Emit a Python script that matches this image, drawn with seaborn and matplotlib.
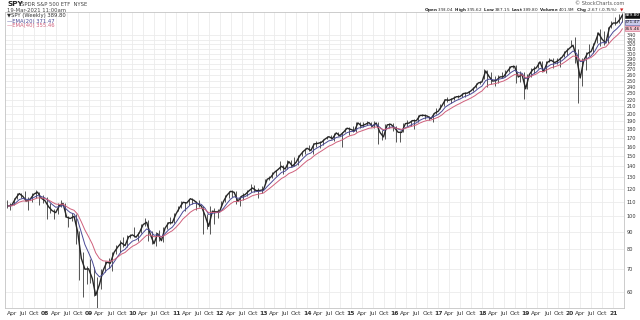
import numpy as np
import pandas as pd
import matplotlib
matplotlib.use("Agg")
import matplotlib.pyplot as plt
import matplotlib.dates as mdates
import seaborn as sns

# ---------------- data (monthly, dividend-adjusted SPY) ----------------
start_month = "2007-02-01"
last_date = "2021-03-19"

close = [
    # 2007 Feb-Dec
    107.1, 107.8, 112.7, 116.5, 114.3, 110.7, 112.2, 116.0, 117.6, 113.0, 111.1,
    # 2008
    106.6, 103.8, 102.4, 107.3, 109.0, 99.3, 98.4, 99.9, 90.0, 75.1, 69.8, 70.0,
    # 2009
    65.5, 58.5, 62.9, 69.1, 73.2, 72.7, 78.2, 81.1, 83.5, 81.9, 86.9, 88.1,
    # 2010
    86.7, 89.3, 94.4, 95.9, 88.3, 83.0, 88.8, 84.7, 92.1, 95.6, 95.6, 101.5,
    # 2011
    106.0, 109.8, 109.3, 112.5, 111.2, 108.8, 107.0, 100.4, 93.3, 103.4, 102.9, 103.4,
    # 2012
    110.3, 115.1, 118.3, 117.5, 110.5, 114.3, 115.7, 118.6, 121.0, 118.8, 118.9, 119.6,
    # 2013
    128.3, 129.9, 134.3, 136.9, 140.1, 137.5, 144.6, 140.3, 144.0, 150.7, 155.1, 158.3,
    # 2014
    155.9, 163.0, 163.6, 164.8, 168.6, 171.2, 169.0, 175.6, 172.4, 176.5, 181.3, 179.8,
    # 2015
    178.0, 187.9, 184.1, 186.0, 188.3, 183.7, 187.8, 176.3, 170.9, 185.4, 186.2, 181.9,
    # 2016
    176.3, 176.2, 187.0, 187.7, 190.9, 190.6, 197.6, 197.8, 196.8, 193.5, 200.6, 203.4,
    # 2017
    211.3, 219.7, 219.0, 221.2, 224.3, 224.6, 229.3, 229.9, 233.4, 238.9, 246.2, 247.9,
    # 2018
    267.0, 257.3, 249.3, 250.5, 256.5, 256.9, 266.4, 274.9, 275.3, 256.3, 261.1, 236.7,
    # 2019
    260.7, 269.2, 272.9, 284.0, 265.9, 283.0, 287.3, 282.6, 286.7, 293.0, 303.6, 311.0,
    # 2020
    317.8, 292.7, 254.7, 287.0, 300.7, 304.7, 322.6, 345.1, 330.9, 322.6, 357.8, 369.4,
    # 2021 Jan-Mar
    369.4, 379.6, 389.8,
]
high = [
    111.3, 109.3, 113.2, 116.7, 117.3, 118.2, 113.8, 116.7, 119.7, 117.8, 115.5,
    114.1, 109.4, 105.1, 109.1, 111.4, 109.3, 100.1, 102.4, 101.5, 90.4, 78.4, 71.4,
    74.7, 71.1, 66.3, 69.9, 73.7, 75.5, 78.3, 82.3, 84.8, 87.0, 87.8, 88.9,
    92.9, 90.1, 94.7, 98.5, 97.6, 90.5, 90.1, 91.2, 92.8, 96.3, 99.1, 101.9,
    107.4, 111.0, 110.3, 112.6, 113.1, 111.1, 111.8, 107.3, 101.3, 106.8, 105.7, 105.1,
    110.9, 115.5, 118.9, 119.4, 118.8, 114.5, 116.7, 119.3, 124.4, 123.2, 120.7, 122.3,
    128.6, 131.0, 134.5, 136.9, 144.9, 141.4, 145.7, 146.5, 148.8, 151.1, 155.8, 158.3,
    161.9, 163.5, 165.7, 166.0, 168.7, 171.9, 173.5, 175.7, 176.7, 176.6, 181.8, 182.9,
    184.6, 189.3, 189.5, 189.3, 190.7, 189.6, 189.9, 188.5, 178.7, 186.8, 188.2, 188.2,
    183.7, 177.5, 188.3, 191.9, 192.0, 193.4, 197.9, 199.8, 199.5, 197.2, 201.6, 207.8,
    213.4, 220.5, 223.2, 222.5, 224.7, 227.6, 230.0, 231.2, 233.5, 239.6, 246.5, 249.5,
    271.4, 268.1, 265.5, 257.3, 259.7, 264.7, 269.6, 276.2, 278.3, 277.7, 266.3, 265.5,
    261.3, 271.7, 275.4, 284.5, 284.9, 286.2, 291.9, 290.7, 292.2, 293.7, 304.8, 312.8,
    328.9, 335.0, 310.0, 291.4, 303.1, 319.5, 323.3, 347.1, 354.5, 349.8, 360.0, 374.0,
    385.1, 393.4, 396.0,
]
low = [
    105.6, 104.0, 107.6, 112.2, 112.9, 110.6, 104.1, 110.2, 112.9, 107.5, 109.4,
    97.8, 102.2, 98.2, 101.7, 106.7, 99.3, 93.2, 96.6, 82.6, 65.1, 57.7, 63.1,
    63.4, 58.3, 53.1, 60.9, 68.4, 70.4, 68.9, 77.3, 78.3, 81.2, 80.9, 86.2,
    86.6, 84.4, 89.3, 93.5, 84.3, 83.0, 81.6, 84.3, 84.2, 91.4, 94.7, 95.6,
    103.8, 105.9, 103.2, 107.6, 108.5, 104.1, 106.1, 88.5, 91.5, 88.5, 94.8, 98.7,
    106.2, 110.0, 113.4, 114.1, 108.9, 106.8, 111.3, 114.5, 117.9, 117.6, 112.9, 116.8,
    124.3, 127.4, 129.4, 131.6, 136.2, 133.4, 137.5, 139.8, 140.3, 141.0, 149.9, 151.9,
    155.2, 152.0, 159.8, 158.6, 161.5, 168.4, 168.7, 166.8, 171.9, 159.2, 176.2, 173.2,
    177.2, 176.9, 181.3, 182.9, 185.0, 183.1, 182.0, 162.7, 167.0, 168.1, 181.6, 178.4,
    164.7, 164.8, 176.1, 184.5, 184.5, 180.8, 189.3, 196.4, 193.2, 191.7, 189.6, 199.8,
    206.9, 210.2, 216.0, 215.2, 218.7, 222.5, 224.2, 224.6, 228.2, 233.6, 238.5, 245.3,
    253.2, 239.5, 245.3, 241.2, 245.4, 254.3, 255.6, 264.4, 271.9, 246.1, 247.0, 221.4,
    235.9, 257.2, 263.1, 271.8, 265.7, 263.7, 283.4, 272.1, 279.5, 275.1, 292.9, 296.7,
    316.6, 282.1, 215.7, 241.0, 268.7, 295.3, 302.4, 321.6, 316.0, 318.7, 323.3, 357.7,
    364.1, 369.7, 371.9,
]

y_ticks = list(range(60, 350, 10))
quarter_names = {1: None, 4: "Apr", 7: "Jul", 10: "Oct"}

ema_fast_label = "EMA(20) 371.47"
ema_slow_label = "EMA(40) 355.46"
fast_val, slow_val, last_val = 371.47, 355.46, 389.80
header_line = (r"$\bf{Open}$ 393.04  $\bf{High}$ 395.62  $\bf{Low}$ 387.15  "
               r"$\bf{Last}$ 389.80  $\bf{Volume}$ 401.5M  $\bf{Chg}$ -2.67 (-0.75%)")

# ---------------- frame ----------------
months = pd.date_range(start_month, periods=len(close), freq="MS")
close_dates = list(months + pd.offsets.MonthEnd(0))
close_dates[-1] = pd.Timestamp(last_date)
mid_dates = months + pd.Timedelta(days=14)

df = pd.DataFrame({"date": close_dates, "close": close, "mid": mid_dates,
                   "high": high, "low": low})
df["ema_fast"] = df["close"].ewm(span=20 / 4.33, adjust=False).mean()
df["ema_slow"] = df["close"].ewm(span=40 / 4.33, adjust=False).mean()

sns.set_style("white")
plt.rcParams["font.family"] = ["DejaVu Sans"]
plt.rcParams["mathtext.fontset"] = "dejavusans"

W, H = 640, 320
fig = plt.figure(figsize=(6.4, 3.2), dpi=100)
ax = fig.add_axes([5 / W, 1 - 308 / H, (624 - 5) / W, (308 - 12) / H])

BLUE = "#4a4a96"
RED = "#d0607c"

ax.vlines(df["mid"], df["low"], df["high"], color="#3a3a3a", lw=0.6, zorder=3)
sns.lineplot(data=df, x="date", y="close", ax=ax, color="#262626", lw=1.0, zorder=3)
sns.lineplot(data=df, x="date", y="ema_fast", ax=ax, color=BLUE, lw=0.7, zorder=4)
sns.lineplot(data=df, x="date", y="ema_slow", ax=ax, color=RED, lw=0.7, zorder=4)

ax.set_yscale("log")
ax.set_ylim(53.7, 398)
ax.set_xlim(pd.Timestamp("2007-02-01"), pd.Timestamp("2021-04-01"))
ax.set_xlabel("")
ax.set_ylabel("")

# y ticks right
ax.yaxis.tick_right()
ax.set_yticks(y_ticks)
ax.set_yticklabels([str(v) for v in y_ticks])
ax.yaxis.set_minor_locator(matplotlib.ticker.NullLocator())
ax.tick_params(axis="y", labelsize=3.6, length=0, pad=2, labelcolor="#333333")

# x ticks at quarters
qdates = pd.date_range("2007-04-01", "2021-01-01", freq="QS-JAN")
ax.set_xticks(qdates)
labels = []
for d in qdates:
    nm = quarter_names[d.month]
    labels.append(nm if nm else d.strftime("%y"))
ax.set_xticklabels(labels)
for lbl, d in zip(ax.get_xticklabels(), qdates):
    if d.month == 1:
        lbl.set_fontweight("bold")
ax.tick_params(axis="x", labelsize=4.3, length=0, pad=2.5, labelcolor="#333333")

ax.grid(True, which="major", color="#ebebeb", lw=0.6)
ax.set_axisbelow(True)
for s in ax.spines.values():
    s.set_color("#c4c4c4")
    s.set_linewidth(0.6)

# value boxes on the right axis
def vbox(val, txt, fc, tc, ec):
    ax.annotate(txt, xy=(1.0, val), xycoords=("axes fraction", "data"),
                xytext=(0.8, 0), textcoords="offset points", fontsize=3.2,
                color=tc, va="center", ha="left", annotation_clip=False,
                bbox=dict(boxstyle="square,pad=0.1", fc=fc, ec=ec, lw=0.4), zorder=10)

vbox(slow_val, "355.46", "#f3c4d0", "#222222", RED)
vbox(fast_val, "371.47", "#c9c9ea", "#222222", BLUE)
vbox(last_val, "389.80", "#111111", "white", "#111111")

# header texts
def ftext(x, y, s, **kw):
    return fig.text(x / W, 1 - y / H, s, va="center", ha="left", **kw)

ftext(7, 4, "SPY", fontsize=5.2, fontweight="bold", color="#222222")
ftext(21, 4.3, "SPDR S&P 500 ETF  NYSE", fontsize=3.8, color="#444444")
ftext(7, 10, "19-Mar-2021 11:00am", fontsize=3.8, color="#444444")
ftext(7, 16, "\u25bcSPY (Weekly) 389.80", fontsize=3.8, color="#333333")
ftext(7, 21, "\u2014" + ema_fast_label, fontsize=3.8, color=BLUE)
ftext(7, 26, "\u2014" + ema_slow_label, fontsize=3.8, color=RED)
fig.text(624 / W, 1 - 3.5 / H, "\u00a9 StockCharts.com", fontsize=3.6,
         color="#555555", ha="right", va="center")

fig.text(617 / W, 1 - 10 / H, header_line, fontsize=2.95, color="#222222",
         ha="right", va="center")
fig.text(623 / W, 1 - 10 / H, "\u25bc", fontsize=3.2, color="#cc2222",
         ha="right", va="center")

fig.savefig("out.png", dpi=100)
